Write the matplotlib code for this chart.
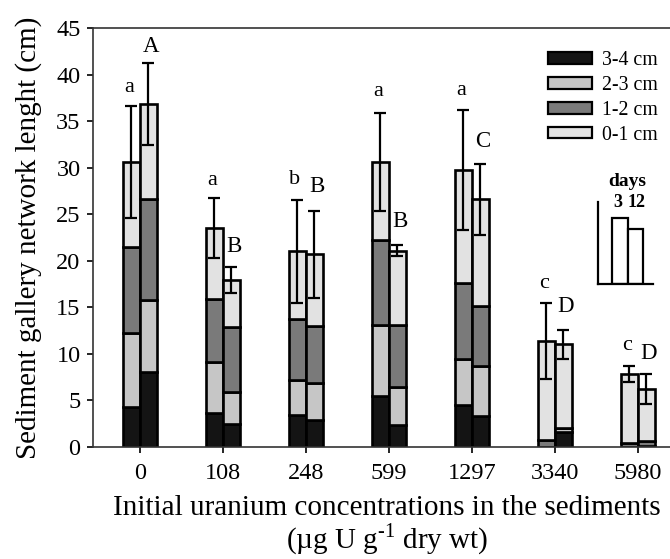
import matplotlib
matplotlib.use("Agg")
import matplotlib.pyplot as plt
from matplotlib.patches import Patch
import numpy as np

plt.rcParams['font.family'] = ['Liberation Serif', 'DejaVu Serif']
plt.rcParams['mathtext.fontset'] = 'custom'
plt.rcParams['mathtext.rm'] = 'Liberation Serif'

categories = ['0', '108', '248', '599', '1297', '3340', '5980']
layers = ['3-4 cm', '2-3 cm', '1-2 cm', '0-1 cm']
colors = ['#141414', '#c6c6c6', '#7a7a7a', '#e2e2e2']

# segment values (cm), day 3
d3_34 = [4.3, 3.6, 3.4, 5.4, 4.5, 0.0, 0.0]
d3_23 = [7.9, 5.5, 3.8, 7.7, 4.9, 0.0, 0.0]
d3_12 = [9.3, 6.75, 6.5, 9.1, 8.2, 0.7, 0.4]
d3_01 = [9.15, 7.65, 7.3, 8.4, 12.2, 10.7, 7.4]
d3_err = [6.0, 3.25, 5.5, 5.3, 6.45, 4.1, 0.85]
# day 12
d12_34 = [8.07, 2.45, 2.9, 2.3, 3.3, 1.6, 0.1]
d12_23 = [7.73, 3.45, 4.0, 4.15, 5.4, 0.4, 0.0]
d12_12 = [10.8, 7.0, 6.1, 6.65, 6.4, 0.0, 0.5]
d12_01 = [10.3, 5.0, 7.7, 8.0, 11.5, 9.0, 5.6]
d12_err = [4.4, 1.4, 4.7, 0.55, 3.85, 1.6, 1.65]

letters3 = ['a', 'a', 'b', 'a', 'a', 'c', 'c']
letters12 = ['A', 'B', 'B', 'B', 'C', 'D', 'D']
letters3_y = [38.6, 28.6, 28.7, 38.2, 38.3, 17.6, 10.9]
letters12_y = [43.0, 21.5, 28.0, 24.2, 32.8, 15.05, 10.0]

inset_days = ['3', '12']
inset_heights = [0.81, 0.667]

fig = plt.figure(figsize=(6.7, 5.59), dpi=100)
ax = fig.add_axes([0.1388, 0.2009, 0.8612, 0.7485])

x = np.arange(len(categories))
w = 0.205
lw = 1.9

def stack(xpos, segs, err):
    bottom = np.zeros(len(categories))
    for s, c in zip(segs, colors):
        ax.bar(xpos, s, width=w, bottom=bottom, color=c, edgecolor='black',
               linewidth=lw, align='center', zorder=2)
        bottom = bottom + np.array(s)
    ax.errorbar(xpos, bottom, yerr=err, fmt='none', ecolor='black',
                elinewidth=1.6, capsize=4.3, capthick=1.6, zorder=3)
    return bottom

stack(x - w / 2, [d3_34, d3_23, d3_12, d3_01], d3_err)
stack(x + w / 2, [d12_34, d12_23, d12_12, d12_01], d12_err)

for i in range(len(categories)):
    ax.text(x[i] - w / 2 - 0.03, letters3_y[i], letters3[i], ha='center', va='center', fontsize=16)
    ax.text(x[i] + w / 2 + 0.03, letters12_y[i], letters12[i], ha='center', va='center', fontsize=16.5)

ax.set_xlim(-0.566, 6.386)
ax.set_ylim(0, 45)
ax.set_yticks(np.arange(0, 46, 5))
ax.set_xticks(x)
ax.set_xticklabels(categories)
ax.tick_params(axis='both', direction='out', length=4, width=1.2, labelsize=17.5)
ax.tick_params(axis='x', pad=8)
ax.tick_params(axis='y', pad=5)
for sp in ['left', 'bottom', 'top']:
    ax.spines[sp].set_linewidth(1.2)
    ax.spines[sp].set_color('#333333')
ax.spines['right'].set_visible(False)

ax.set_ylabel('Sediment gallery network lenght (cm)', fontsize=21, labelpad=10)
fig.text(387 / 670, 1 - 508 / 559, 'Initial uranium concentrations in the sediments',
         ha='center', va='center', fontsize=21)
fig.text(387 / 670, 1 - 539 / 559, '(µg U g$^{\\text{-1}}$ dry wt)',
         ha='center', va='center', fontsize=21)

handles = [Patch(facecolor=c, edgecolor='black', linewidth=1.6, label=l)
           for c, l in zip(colors, layers)]
ax.legend(handles=handles, loc='upper right', bbox_to_anchor=(1.0, 0.975),
          frameon=False, fontsize=14.3, handlelength=2.25, handleheight=0.55,
          labelspacing=0.3, handletextpad=0.5, borderaxespad=0.2)

# inset schematic
iax = fig.add_axes([598 / 670, 1 - 284 / 559, (653 - 598) / 670, (284 - 202) / 559])
iax.bar([0.5, 1.5], inset_heights, width=1.0, color='white', edgecolor='black', linewidth=1.6)
iax.set_xlim(-0.9, 2.63)
iax.set_ylim(0, 1)
iax.set_xticks([])
iax.set_yticks([])
for sp in ['top', 'right']:
    iax.spines[sp].set_visible(False)
for sp in ['left', 'bottom']:
    iax.spines[sp].set_linewidth(1.6)
for xp, lab in zip([0.4, 1.55], inset_days):
    iax.text(xp, 0.99, lab, ha='center', va='center', fontsize=13, fontweight='bold')
iax.text(1.0, 1.25, 'days', ha='center', va='center', fontsize=14, fontweight='bold')

fig.savefig('out.png', dpi=100)
